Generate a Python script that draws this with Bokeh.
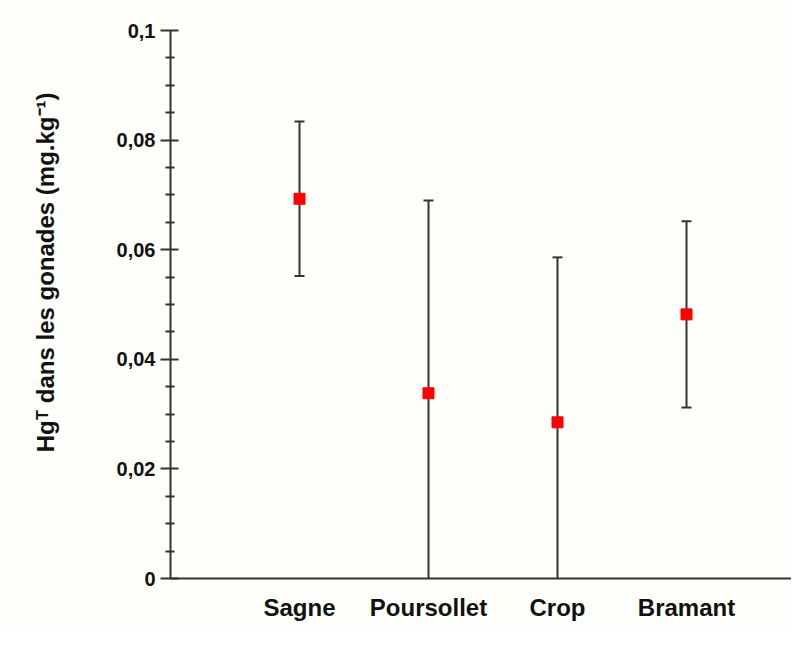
from bokeh.plotting import figure
from bokeh.models import FixedTicker, Range1d, Title
from bokeh.embed import file_html
from bokeh.resources import INLINE

sites = ["Sagne", "Poursollet", "Crop", "Bramant"]
positions = [1, 2, 3, 4]
means = [0.0693, 0.0338, 0.0285, 0.0482]
upper = [0.0834, 0.0690, 0.0586, 0.0652]
lower = [0.0552, -0.0014, -0.0016, 0.0312]

y_ticks = [0, 0.02, 0.04, 0.06, 0.08, 0.1]
y_tick_labels = ["0", "0,02", "0,04", "0,06", "0,08", "0,1"]
y_minor = [0.005, 0.01, 0.015, 0.025, 0.03, 0.035, 0.045, 0.05, 0.055,
           0.065, 0.07, 0.075, 0.085, 0.09, 0.095]
y_title = "Hgᵀ dans les gonades (mg.kg⁻¹)"

BG = "#fefefb"
INK = "#333333"
TXT = "#111111"
FONT = "Liberation Sans"

p = figure(width=791, height=629, output_backend="svg", toolbar_location=None,
           x_range=Range1d(0, 621 / 129), y_range=Range1d(0, 0.1),
           min_border_left=170, min_border_right=0, min_border_top=30,
           min_border_bottom=51)
p.background_fill_color = BG
p.border_fill_color = BG
p.outline_line_color = None
p.grid.visible = False

# y axis
ya = p.yaxis[0]
ya.ticker = FixedTicker(ticks=y_ticks, minor_ticks=y_minor)
ya.major_label_overrides = {t: l for t, l in zip(y_ticks, y_tick_labels)}
ya.axis_line_color = INK
ya.axis_line_width = 2
ya.major_tick_line_color = INK
ya.major_tick_line_width = 2
ya.major_tick_in = 8
ya.major_tick_out = 10
ya.minor_tick_line_color = INK
ya.minor_tick_line_width = 2
ya.minor_tick_in = 4
ya.minor_tick_out = 5
ya.major_label_standoff = 5
ya.major_label_text_font = FONT
ya.major_label_text_font_style = "bold"
ya.major_label_text_font_size = "20px"
ya.major_label_text_color = TXT

# x axis
xa = p.xaxis[0]
xa.ticker = FixedTicker(ticks=positions)
xa.major_label_overrides = {pos: s for pos, s in zip(positions, sites)}
xa.axis_line_color = INK
xa.axis_line_width = 2
xa.major_tick_in = 0
xa.major_tick_out = 0
xa.minor_tick_in = 0
xa.minor_tick_out = 0
xa.major_label_standoff = 15
xa.major_label_text_font = FONT
xa.major_label_text_font_style = "bold"
xa.major_label_text_font_size = "24px"
xa.major_label_text_color = TXT

# error bars
p.segment(x0=positions, y0=lower, x1=positions, y1=upper,
          line_color=INK, line_width=2)
p.scatter(x=positions, y=upper, marker="dash", size=10,
          line_color=INK, line_width=2)
cap_x = [x for x, lo in zip(positions, lower) if lo > 0]
cap_y = [lo for lo in lower if lo > 0]
p.scatter(x=cap_x, y=cap_y, marker="dash", size=10,
          line_color=INK, line_width=2)

# points
p.scatter(x=positions, y=means, marker="square", size=11,
          fill_color="#ff0000", line_color="#ff0000")

# spacer between tick labels and the y title
spacer = Title(text=" ", standoff=24, text_font_size="1px", text_color=BG)
p.add_layout(spacer, "left")

# y axis title
t = Title(text=y_title, align="right", offset=62, standoff=55,
          text_font=FONT, text_font_style="bold", text_font_size="24px",
          text_color=TXT)
p.add_layout(t, "left")

open("out.html", "w").write(file_html(p, INLINE))
